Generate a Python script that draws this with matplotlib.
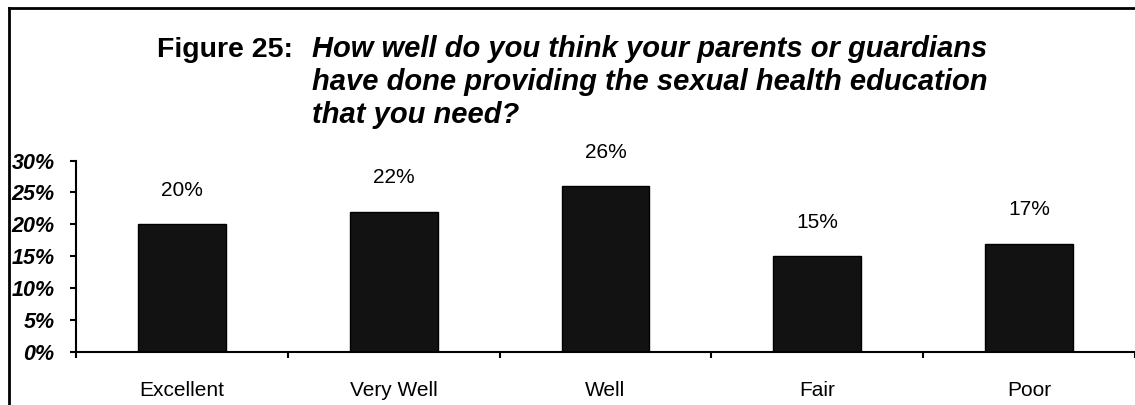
import matplotlib
matplotlib.use("Agg")
import matplotlib.pyplot as plt
from matplotlib.lines import Line2D
import numpy as np

categories = ["Excellent", "Very Well", "Well", "Fair", "Poor"]
values = [20, 22, 26, 15, 17]
yticks = [0, 5, 10, 15, 20, 25, 30]
ytick_labels = ["0%", "5%", "10%", "15%", "20%", "25%", "30%"]
title_prefix = "Figure 25:"
title_lines = ["How well do you think your parents or guardians",
               "have done providing the sexual health education",
               "that you need?"]

plt.rcParams['font.family'] = ['Liberation Sans', 'DejaVu Sans']

W, H = 1135, 405
fig = plt.figure(figsize=(W / 100, H / 100), dpi=100)

def fx(px):
    return px / W

def fy(py):
    return 1 - py / H

ax = fig.add_axes([fx(76), fy(352), fx(1135) - fx(76), fy(160.6) - fy(352)])

x = np.arange(len(categories))
ax.bar(x, values, width=0.415, color='#121212', edgecolor='black', linewidth=1.0)
ax.set_xlim(-0.5, len(categories) - 0.5)
ax.set_ylim(0, 30)

for xi, v in zip(x, values):
    ax.annotate(f"{v}%", (xi, v), xytext=(0, 24.5), textcoords='offset points',
                ha='center', va='center', fontsize=15, annotation_clip=False)

ax.spines['top'].set_visible(False)
ax.spines['right'].set_visible(False)
ax.spines['left'].set_linewidth(1.5)
ax.spines['bottom'].set_linewidth(1.5)

ax.set_yticks(yticks)
ax.set_yticklabels(ytick_labels, fontsize=15.5, fontweight='bold', fontstyle='italic')
ax.tick_params(axis='y', length=4.5, width=1.5, pad=11)

ax.set_xticks(np.arange(len(categories) + 1) - 0.5)
ax.set_xticklabels([])
ax.tick_params(axis='x', which='major', length=4.5, width=1.5, direction='out')
ax.set_xticks(x, minor=True)
ax.set_xticklabels(categories, minor=True, fontsize=15)
ax.tick_params(axis='x', which='minor', length=0, pad=21)

fig.text(fx(157), fy(57), title_prefix, fontsize=20.5, fontweight='bold',
         ha='left', va='baseline')
for i, line in enumerate(title_lines):
    fig.text(fx(312), fy(57 + 33 * i), line, fontsize=21, fontweight='bold',
             fontstyle='italic', ha='left', va='baseline')

# outer frame (left and top)
fig.add_artist(Line2D([fx(9), fx(9)], [0, fy(8)], color='black', linewidth=2))
fig.add_artist(Line2D([fx(9), 1], [fy(8), fy(8)], color='black', linewidth=2))

fig.savefig("out.png", dpi=100)
